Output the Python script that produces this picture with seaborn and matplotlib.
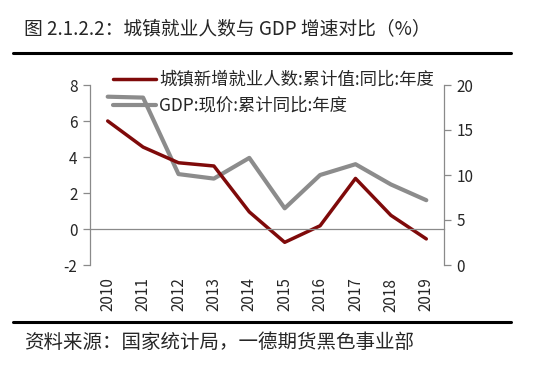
import numpy as np
import pandas as pd
import seaborn as sns
import matplotlib.pyplot as plt
from matplotlib.lines import Line2D
from matplotlib.ticker import FixedLocator

# data
years = ["2010", "2011", "2012", "2013", "2014", "2015", "2016", "2017", "2018", "2019"]
jobs_yoy = [6.0, 4.55, 3.68, 3.5, 0.95, -0.74, 0.18, 2.81, 0.76, -0.55]
gdp_yoy = [18.7, 18.6, 10.1, 9.6, 11.9, 6.3, 10.0, 11.2, 8.95, 7.2]

jobs_label = "城镇新增就业人数:累计值:同比:年度"
gdp_label = "GDP:现价:累计同比:年度"
title = "图 2.1.2.2：城镇就业人数与 GDP 增速对比（%）"
source = "资料来源：国家统计局，一德期货黑色事业部"

df = pd.DataFrame({"year": years, "jobs": jobs_yoy, "gdp": gdp_yoy})

sns.set_theme(style="white")
plt.rcParams["font.family"] = ["Noto Sans CJK SC", "DejaVu Sans"]
plt.rcParams["axes.unicode_minus"] = False

red = "#7f0a0a"
grey = "#8c8c8c"
axis_col = "#8a8a8a"

fig = plt.figure(figsize=(5.5, 3.7), dpi=100)
ax = fig.add_axes([90 / 550, 1 - 265 / 370, 354 / 550, 180 / 370])
ax2 = ax.twinx()

sns.lineplot(data=df, x="year", y="jobs", ax=ax, color=red, linewidth=2.5, label=jobs_label, legend=False)
sns.lineplot(data=df, x="year", y="gdp", ax=ax2, color=grey, linewidth=3, label=gdp_label, legend=False)
ax2.set_zorder(ax.get_zorder() - 1)
ax.patch.set_visible(False)

ax.set_xlim(-0.5, len(years) - 0.5)
ax.set_ylim(-2, 8)
ax.set_yticks([-2, 0, 2, 4, 6, 8])
ax2.set_ylim(0, 20)
ax2.set_yticks([0, 5, 10, 15, 20])
ax.set_xlabel("")
ax.set_ylabel("")
ax2.set_ylabel("")

# spines: zero line carries the category tick marks
for a in (ax, ax2):
    a.spines["top"].set_visible(False)
    for s in a.spines.values():
        s.set_color(axis_col)
        s.set_linewidth(0.9)
ax.spines["right"].set_visible(False)
ax2.spines["left"].set_visible(False)
ax2.spines["bottom"].set_visible(False)
ax.spines["bottom"].set_position(("data", 0))

ax.xaxis.set_minor_locator(FixedLocator(np.arange(len(years) + 1) - 0.5))
ax.tick_params(axis="x", which="minor", direction="out", length=5, width=0.9, color=axis_col)
ax.tick_params(axis="x", which="major", length=0, pad=35, labelsize=11, labelrotation=90)
ax.tick_params(axis="y", direction="out", length=5, width=0.9, color=axis_col, labelsize=11, pad=4)
ax2.tick_params(axis="y", direction="out", length=5, width=0.9, color=axis_col, labelsize=11, pad=4)
ax.tick_params(left=True)
ax2.tick_params(right=True)

handles = [Line2D([], [], color=red, linewidth=2.5), Line2D([], [], color=grey, linewidth=3)]
fig.legend(handles, [jobs_label, gdp_label], loc="upper left", bbox_to_anchor=(113 / 550, 1 - 71 / 370),
           frameon=False, fontsize=12.5, handlelength=2.5, handletextpad=0.15, labelspacing=0.45,
           borderpad=0, borderaxespad=0)

fig.text(24 / 550, 1 - 29 / 370, title, fontsize=13.5, va="center", ha="left")
fig.text(24 / 550, 1 - 342 / 370, source, fontsize=14, va="center", ha="left")
fig.add_artist(Line2D([13 / 550, 511 / 550], [1 - 52.5 / 370] * 2, color="black", linewidth=2.2))
fig.add_artist(Line2D([13 / 550, 511 / 550], [1 - 321.5 / 370] * 2, color="black", linewidth=2.2))

fig.savefig("out.png", dpi=100)
